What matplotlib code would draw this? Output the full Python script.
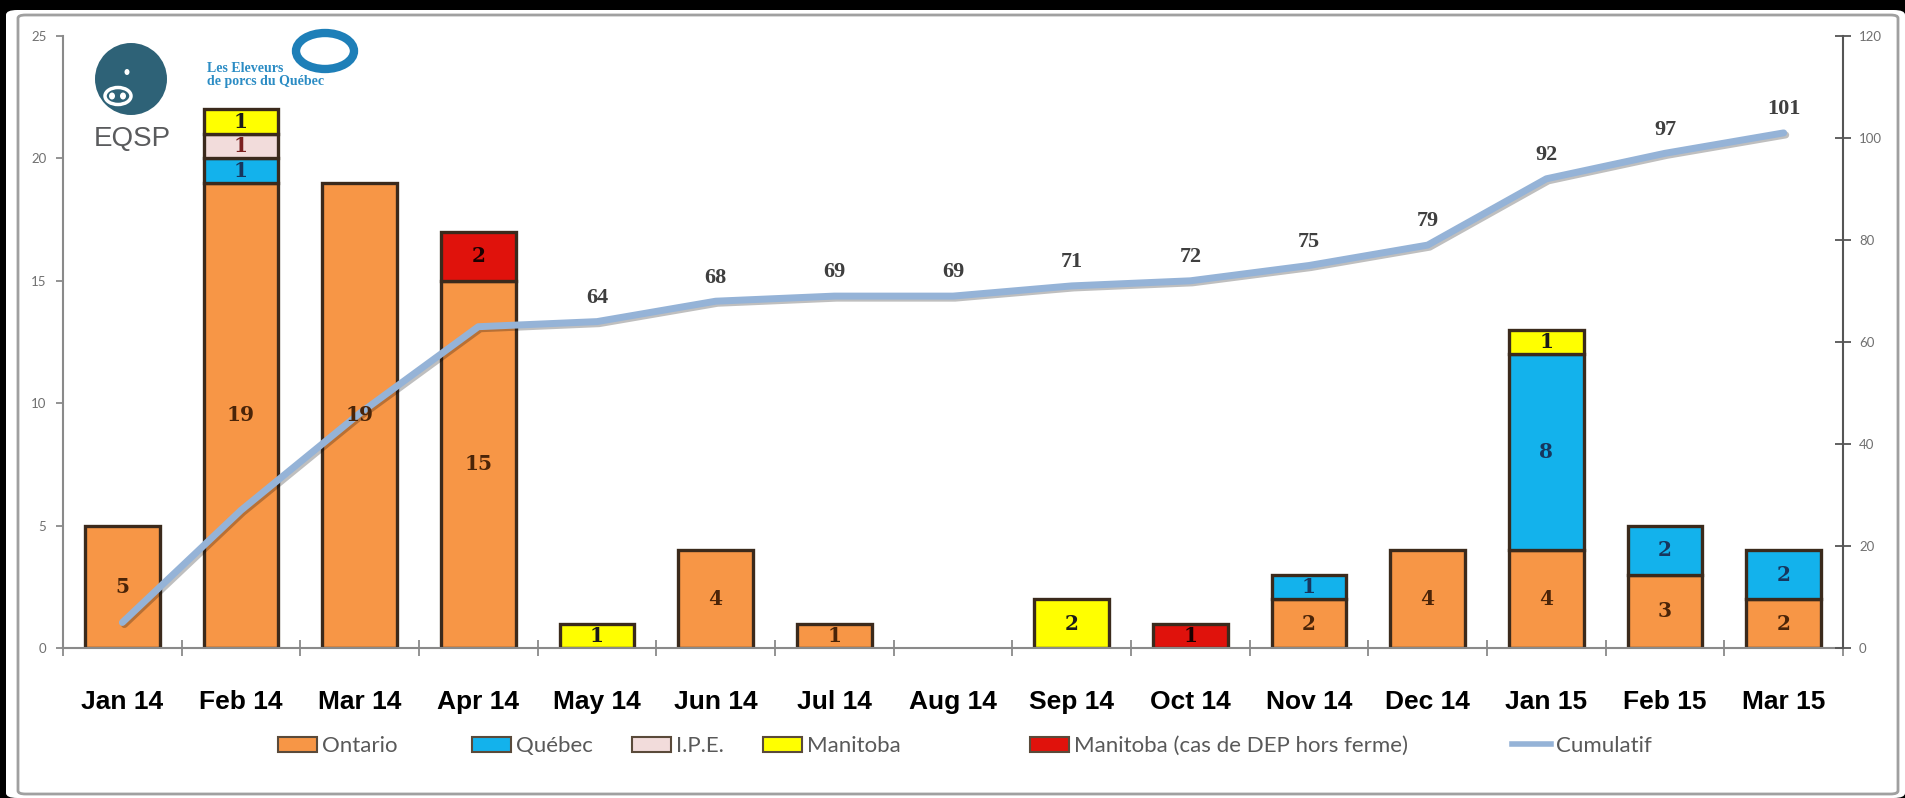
import matplotlib
matplotlib.use('Agg')
import matplotlib.pyplot as plt
import numpy as np
from matplotlib.patches import FancyBboxPatch, Ellipse, Patch
from matplotlib.lines import Line2D
import matplotlib.patheffects as pe

# ---------------- data ----------------
months = ['Jan 14', 'Feb 14', 'Mar 14', 'Apr 14', 'May 14', 'Jun 14', 'Jul 14', 'Aug 14',
          'Sep 14', 'Oct 14', 'Nov 14', 'Dec 14', 'Jan 15', 'Feb 15', 'Mar 15']
ontario = [5, 19, 19, 15, 0, 4, 1, 0, 0, 0, 2, 4, 4, 3, 2]
quebec = [0, 1, 0, 0, 0, 0, 0, 0, 0, 0, 1, 0, 8, 2, 2]
ipe = [0, 1, 0, 0, 0, 0, 0, 0, 0, 0, 0, 0, 0, 0, 0]
manitoba = [0, 1, 0, 0, 1, 0, 0, 0, 2, 0, 0, 0, 1, 0, 0]
manitoba_dep = [0, 0, 0, 2, 0, 0, 0, 0, 0, 1, 0, 0, 0, 0, 0]
cumulatif = [5, 27, 46, 63, 64, 68, 69, 69, 71, 72, 75, 79, 92, 97, 101]
cumul_labelled_from = 4
series_names = ['Ontario', 'Québec', 'I.P.E.', 'Manitoba', 'Manitoba (cas de DEP hors ferme)']
line_name = 'Cumulatif'

# ---------------- styles ----------------
W, H = 1905, 798
fill_colors = ['#F79646', '#13B2EC', '#F2DCDB', '#FFFF00', '#E0120C']
text_colors = ['#4A2408', '#17365D', '#7B2020', '#1A1A1A', '#1A0000']
edge_color = '#3B2A1C'
line_color = '#95B3D7'
gray = '#8A8A8A'


def fx(x):
    return x / W


def fy(y):
    return 1 - y / H


fig = plt.figure(figsize=(W / 100, H / 100), dpi=100, facecolor='black')

# white panel + rounded gray frame
fig.patches.append(FancyBboxPatch((fx(6), fy(798)), fx(1905) - fx(6), fy(10) - fy(798),
                                  boxstyle='round,pad=0,rounding_size=0.006',
                                  transform=fig.transFigure, facecolor='white',
                                  edgecolor='none', zorder=-5))
fig.patches.append(FancyBboxPatch((fx(18), fy(794)), fx(1898) - fx(18), fy(15) - fy(794),
                                  boxstyle='round,pad=0,rounding_size=0.004',
                                  transform=fig.transFigure, facecolor='none',
                                  edgecolor='#A0A0A0', linewidth=2, zorder=-4))

ax = fig.add_axes([fx(63), fy(648), fx(1843) - fx(63), (648 - 36) / H])
ax.set_facecolor('none')
ax2 = ax.twinx()
ax2.set_facecolor('none')

x = np.arange(len(months))
bottom = np.zeros(len(months))
stack = [ontario, quebec, ipe, manitoba, manitoba_dep]
handles = []
for vals, fc, tc, name in zip(stack, fill_colors, text_colors, series_names):
    v = np.array(vals, dtype=float)
    m = v > 0
    ax.bar(x[m], v[m], 0.63, bottom=bottom[m], color=fc, edgecolor=edge_color,
           linewidth=2.4, zorder=2)
    for xi, vi, bi in zip(x[m], v[m], bottom[m]):
        ax2.text(xi, bi + vi / 2, str(int(vi)), transform=ax.transData, ha='center',
                 va='center', fontsize=14.5, fontweight='bold', family='DejaVu Serif',
                 color=tc, zorder=10)
    bottom += v
    handles.append(Patch(facecolor=fc, edgecolor='#5A4A3A', linewidth=1.5, label=name))

ax2.plot(x, cumulatif, color=line_color, lw=5, solid_capstyle='round', zorder=5,
         path_effects=[pe.SimpleLineShadow(offset=(1.5, -1.5), alpha=0.25), pe.Normal()])
for xi, v in zip(x[cumul_labelled_from:], cumulatif[cumul_labelled_from:]):
    ax2.annotate(str(v), (xi, v), xytext=(0, 17), textcoords='offset points', ha='center',
                 va='center', fontsize=16, fontweight='bold', family='Liberation Serif',
                 color='#3F3F3F', zorder=11)
handles.append(Line2D([], [], color=line_color, lw=4, label=line_name))

# axes
ax.set_xlim(-0.5, len(months) - 0.5)
ax.set_ylim(0, 25)
ax2.set_ylim(0, 120)
ax.set_yticks(range(0, 26, 5))
ax2.set_yticks(range(0, 121, 20))
ax.set_xticks(x)
ax.set_xticklabels(months, fontsize=19, fontweight='bold', family='Liberation Sans',
                   color='black')
ax.set_xticks(np.arange(-0.5, len(months), 1), minor=True)
ax.tick_params(axis='x', which='major', length=0, pad=30)
ax.tick_params(axis='x', which='minor', direction='inout', length=11, width=1.3, color=gray)
ax.tick_params(axis='y', direction='out', length=5, width=1.3, color=gray, labelsize=9.5,
               labelcolor='#707070', pad=7)
ax2.tick_params(axis='y', direction='inout', length=11, width=1.3, color='#555555',
                labelsize=9.5, labelcolor='#707070', pad=6)
for a in (ax, ax2):
    a.spines['top'].set_visible(False)
    for s in ('left', 'right', 'bottom'):
        a.spines[s].set_color(gray)
        a.spines[s].set_linewidth(1.5)
ax2.spines['right'].set_color('#555555')
ax2.spines['left'].set_visible(False)
ax2.spines['bottom'].set_visible(False)
ax.spines['right'].set_visible(False)
for lab in ax.get_yticklabels() + ax2.get_yticklabels():
    lab.set_family('Lato')

# legend (one entry per position, like the original)
leg_x = [278, 472, 632, 763, 1030, 1512]
for h, lx in zip(handles, leg_x):
    lg = fig.legend(handles=[h], loc='center left', bbox_to_anchor=(fx(lx), fy(746)),
                    frameon=False, borderpad=0, borderaxespad=0, handlelength=1.75,
                    handleheight=0.65, handletextpad=0.25,
                    prop={'family': 'Lato', 'size': 16})
    for t in lg.get_texts():
        t.set_color('#595959')

# logo (EQSP + Les Eleveurs de porcs du Québec)
teal = '#2E6277'
fig.patches.append(Ellipse((fx(131), fy(79)), 72 / W, 72 / H, transform=fig.transFigure,
                           facecolor=teal, edgecolor='none', zorder=6))
fig.patches.append(Ellipse((fx(118), fy(96)), 26 / W, 17 / H, transform=fig.transFigure,
                           facecolor='none', edgecolor='white', linewidth=2.5, zorder=7))
for dx in (112, 123):
    fig.patches.append(Ellipse((fx(dx), fy(96)), 6 / W, 7 / H, transform=fig.transFigure,
                               facecolor='white', edgecolor='none', zorder=7))
fig.patches.append(Ellipse((fx(127), fy(72)), 5 / W, 6 / H, transform=fig.transFigure,
                           facecolor='white', edgecolor='none', zorder=7))
fig.text(fx(132), fy(139), 'EQSP', ha='center', va='center', fontsize=20,
         family='Liberation Sans', color='#5A5B5D', zorder=7)
fig.patches.append(Ellipse((fx(325), fy(51)), 58 / W, 36 / H, transform=fig.transFigure,
                           facecolor='none', edgecolor='#1E7FB8', linewidth=6, zorder=7))
fig.text(fx(207), fy(69), 'Les Eleveurs', ha='left', va='center', fontsize=10,
         fontweight='bold', family='Liberation Serif', color='#2B8CC4', zorder=7)
fig.text(fx(207), fy(82), 'de porcs du Québec', ha='left', va='center', fontsize=10,
         fontweight='bold', family='Liberation Serif', color='#2B8CC4', zorder=7)

fig.savefig('out.png', dpi=100, facecolor='black')
